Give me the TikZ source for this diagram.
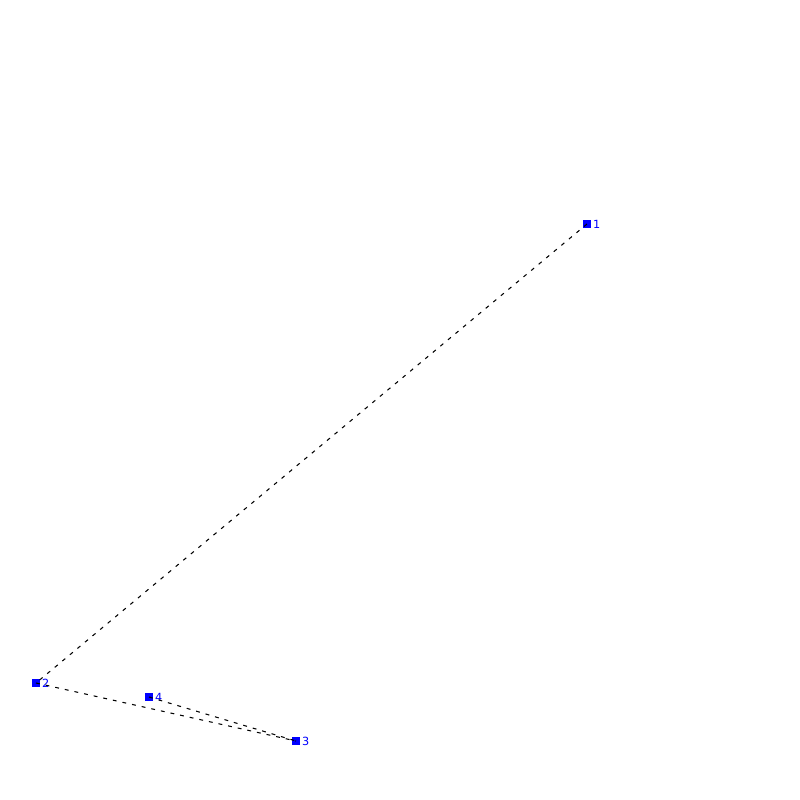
\documentclass[tikz,border=0pt]{standalone}
\usepackage{fontspec}
\setmainfont{DejaVu Sans}
\usepackage{xcolor}
\usepackage{tikz}

\begin{document}
\begin{tikzpicture}[scale=1.0,
  pt/.style={fill=blue, inner sep=0pt, minimum size=0.075cm},
  lbl/.style={text=blue, font=\fontsize{3.2}{3.5}\selectfont, inner sep=0pt, anchor=west},
  edge/.style={dash pattern=on 1.1pt off 1.7pt, line width=0.3pt}]
  \useasboundingbox (0,0) rectangle (8,8);
  % pontos
  \node[pt] (p1) at (5.87,5.76) {};
  \node[pt] (p2) at (0.36,1.17) {};
  \node[pt] (p3) at (2.96,0.59) {};
  \node[pt] (p4) at (1.49,1.03) {};
  \node[lbl] at ([xshift=0.3pt]p1.east) {1};
  \node[lbl] at ([xshift=0.3pt]p2.east) {2};
  \node[lbl] at ([xshift=0.3pt]p3.east) {3};
  \node[lbl] at ([xshift=0.3pt]p4.east) {4};
  % arestas
  \draw[edge] (p1.center) -- (p2.center);
  \draw[edge] (p2.center) -- (p3.center);
  \draw[edge] (p4.center) -- (p3.center);
\end{tikzpicture}
\end{document}
